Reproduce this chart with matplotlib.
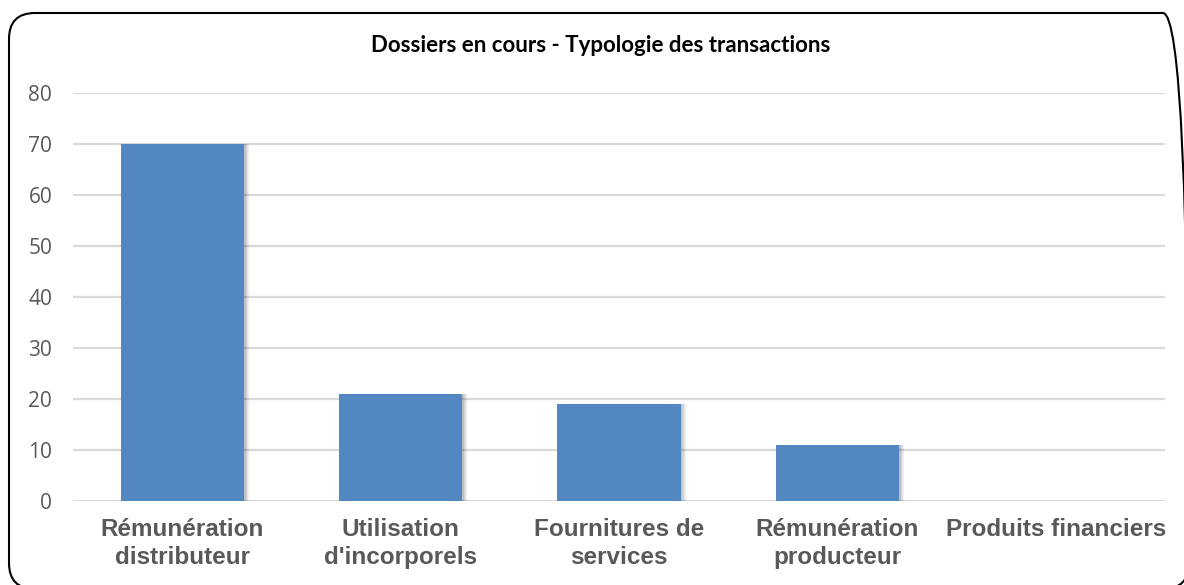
import numpy as np
import matplotlib.pyplot as plt
from matplotlib.patches import FancyBboxPatch

categories = ["Rémunération\ndistributeur", "Utilisation\nd'incorporels",
              "Fournitures de\nservices", "Rémunération\nproducteur",
              "Produits financiers"]
values = [70, 21, 19, 11, 0]
yticks = [0, 10, 20, 30, 40, 50, 60, 70, 80]

W, H = 1184, 585
fig = plt.figure(figsize=(W / 100, H / 100), dpi=100)
ax = fig.add_axes([73 / W, 1 - 501 / H, (1165 - 73) / W, (501 - 93) / H])

x = np.arange(len(categories))
bw = 0.565
# soft shadow behind the bars
for i, a in enumerate([0.09, 0.07, 0.05, 0.035, 0.02]):
    d = 0.005 * (i + 1)
    ax.bar(x + d + 0.003, values, width=bw, color='#000000', alpha=a,
           zorder=2, linewidth=0)
ax.bar(x, values, width=bw, color='#5387C1', zorder=3, linewidth=0)

ax.set_xlim(-0.5, len(categories) - 0.5)
ax.set_ylim(0, 80)
ax.set_yticks(yticks)
ax.yaxis.grid(True, color='#D9D9D9', linewidth=1.6, zorder=0)
ax.set_axisbelow(True)
for s in ax.spines.values():
    s.set_visible(False)
ax.tick_params(length=0)
ax.tick_params(axis='y', labelsize=15, labelcolor='#595959', pad=15)
for t in ax.get_yticklabels():
    t.set_fontfamily('Open Sans')
ax.set_xticks(x)
ax.set_xticklabels(categories, fontsize=17.5, fontweight='bold', color='#595959',
                   family='Liberation Sans', linespacing=1.3)
ax.tick_params(axis='x', pad=12)

fig.text(601 / W, 1 - 46 / H, "Dossiers en cours - Typologie des transactions",
         ha='center', va='center', fontsize=16, fontweight='bold',
         family='Lato', color='#000000')

# rounded frame, right and bottom edges run just past the image
border = FancyBboxPatch((9 / W, -4 / H), 1180 / W, (H - 9) / H,
                        boxstyle="round,pad=0,rounding_size=0.022",
                        mutation_aspect=W / H,
                        transform=fig.transFigure, facecolor='none',
                        edgecolor='#000000', linewidth=1.5, clip_on=False)
fig.patches.append(border)

fig.savefig('out.png', dpi=100)
